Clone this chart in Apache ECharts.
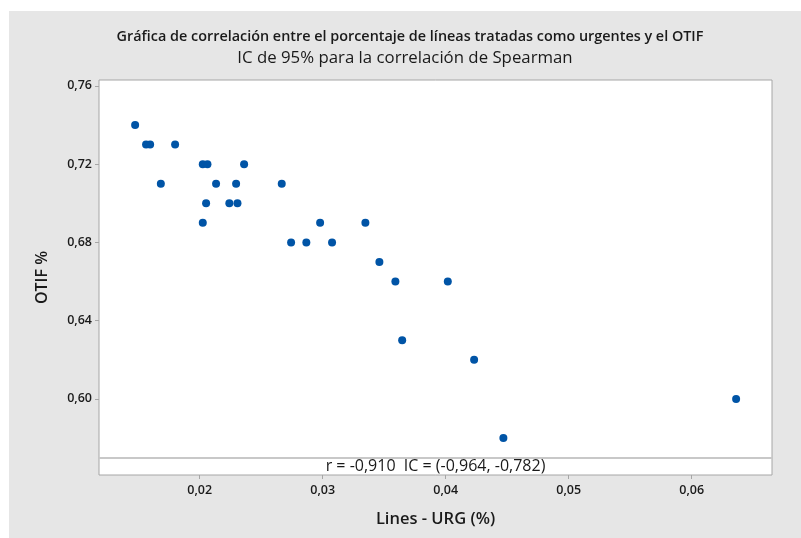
<!DOCTYPE html>
<html>
<head>
<meta charset="utf-8">
<script src="https://cdn.jsdelivr.net/npm/echarts@6/dist/echarts.min.js"></script>
<style>
html,body{margin:0;padding:0;background:#fff;}
#main{width:801px;height:538px;}
</style>
</head>
<body>
<div id="main"></div>
<script>
// Data
const urgPct = [0.01475, 0.01564, 0.01597, 0.0180, 0.02025, 0.02063, 0.02361,
  0.01684, 0.02133, 0.02296, 0.02667, 0.02052, 0.02241, 0.02307,
  0.02025, 0.02979, 0.03347, 0.02743, 0.02867, 0.03076, 0.03461,
  0.03591, 0.04017, 0.03646, 0.04231, 0.06361, 0.04469];
const otif = [0.74, 0.73, 0.73, 0.73, 0.72, 0.72, 0.72,
  0.71, 0.71, 0.71, 0.71, 0.70, 0.70, 0.70,
  0.69, 0.69, 0.69, 0.68, 0.68, 0.68, 0.67,
  0.66, 0.66, 0.63, 0.62, 0.60, 0.58];
const xTicks = [0.02, 0.03, 0.04, 0.05, 0.06];
const yTicks = [0.60, 0.64, 0.68, 0.72, 0.76];
const titleMain = 'Gráfica de correlación entre el porcentaje de líneas tratadas como urgentes y el OTIF';
const titleSub = 'IC de 95% para la correlación de Spearman';
const statText = 'r = -0,910  IC = (-0,964, -0,782)';
const xName = 'Lines - URG (%)';
const yName = 'OTIF %';

const xMin = 0.011813, xMax = 0.066528;
const yMin = 0.5611, yMax = 0.763, ySep = 0.5703;

const font = '"Open Sans", "Noto Sans", sans-serif';
const fmt = v => v.toFixed(2).replace('.', ',');

const chart = echarts.init(document.getElementById('main'), null, {renderer: 'canvas'});
chart.setOption({
  backgroundColor: '#ffffff',
  animation: false,
  graphic: [
    {type: 'rect', z: -10, silent: true, shape: {x: 9, y: 11, width: 800, height: 540}, style: {fill: '#e6e6e6'}},
    {type: 'text', z: 10, x: 410, y: 37, style: {text: titleMain, fontFamily: font, fontSize: 14.4, fontWeight: 600, fill: '#1a1a1a', align: 'center', verticalAlign: 'middle'}},
    {type: 'text', z: 10, x: 405, y: 58, style: {text: titleSub, fontFamily: font, fontSize: 16.8, fill: '#1a1a1a', align: 'center', verticalAlign: 'middle'}}
  ],
  grid: {left: 99, top: 80, right: 29, bottom: 63, show: true, backgroundColor: '#ffffff', borderColor: '#a6a6a6', borderWidth: 1},
  xAxis: {
    type: 'value', min: xMin, max: xMax,
    name: xName, nameLocation: 'middle', nameGap: 36,
    nameTextStyle: {fontFamily: font, fontSize: 16.5, fontWeight: 600, color: '#1a1a1a'},
    axisLine: {show: false},
    splitLine: {show: false},
    axisTick: {show: true, length: 4, lineStyle: {color: '#a6a6a6'}, customValues: xTicks},
    axisLabel: {customValues: xTicks, formatter: fmt, fontFamily: font, fontSize: 12.5, fontWeight: 600, color: '#1a1a1a', margin: 9}
  },
  yAxis: {
    type: 'value', min: yMin, max: yMax,
    name: yName, nameLocation: 'middle', nameGap: 49, nameRotate: 90,
    nameTextStyle: {fontFamily: font, fontSize: 16, color: '#1a1a1a', fontWeight: 600},
    axisLine: {show: false},
    splitLine: {show: false},
    axisTick: {show: true, length: 4, lineStyle: {color: '#a6a6a6'}, customValues: yTicks},
    axisLabel: {customValues: yTicks, formatter: fmt, fontFamily: font, fontSize: 12.5, fontWeight: 600, color: '#1a1a1a', margin: 7}
  },
  series: [{
    type: 'scatter',
    symbol: 'circle',
    symbolSize: 8,
    itemStyle: {color: '#0054a6', opacity: 1},
    data: urgPct.map((x, i) => [x, otif[i]]),
    markLine: {
      silent: true, symbol: 'none', animation: false,
      label: {show: false},
      lineStyle: {color: '#c8c8c8', width: 2, type: 'solid'},
      data: [{yAxis: ySep}]
    },
    markArea: {
      silent: true,
      itemStyle: {color: 'rgba(255,255,255,0)'},
      label: {show: true, position: 'inside', formatter: statText, fontFamily: font, fontSize: 16, color: '#1a1a1a'},
      data: [[{yAxis: yMin, xAxis: xMin}, {yAxis: ySep, xAxis: xMax}]]
    }
  }]
});
</script>
</body>
</html>
